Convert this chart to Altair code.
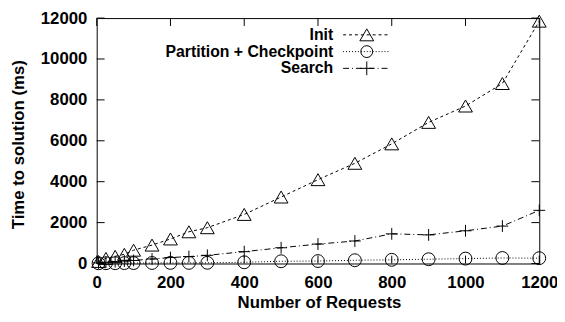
import altair as alt
import pandas as pd

# ---- data ----
requests = [5, 25, 50, 75, 100, 150, 200, 250, 300, 400, 500, 600, 700, 800, 900, 1000, 1100, 1200]
init_ms = [100, 250, 350, 450, 650, 900, 1200, 1550, 1750, 2400, 3250, 4100, 4900, 5850, 6900, 7700, 8800, 11850]
partition_ms = [10, 15, 15, 20, 20, 25, 30, 30, 35, 60, 110, 120, 160, 180, 210, 240, 270, 260]
search_ms = [30, 60, 90, 120, 150, 220, 290, 340, 400, 580, 770, 950, 1100, 1450, 1400, 1600, 1830, 2600]
series_names = ["Init", "Partition + Checkpoint", "Search"]
x_ticks = [0, 200, 400, 600, 800, 1000, 1200]
y_ticks = [0, 2000, 4000, 6000, 8000, 10000, 12000]

rows = []
for name, vals in zip(series_names, [init_ms, partition_ms, search_ms]):
    for xv, yv in zip(requests, vals):
        rows.append({"series": name, "x": xv, "y": yv})
df = pd.DataFrame(rows)

W, H = 449, 249
FONT = "Liberation Sans"
FS = 17
LFS = 16
dash_range = [[3, 3], [1, 2], [6, 3, 1, 3]]
shape_range = ["triangle-up", "circle", "M-1,0H1M0,-1V1"]
size_range = [196, 144, 196]

xscale = alt.Scale(domain=[0, 1200], nice=False, zero=False)
yscale = alt.Scale(domain=[0, 12000], nice=False)

common_axis = dict(
    ticks=False, tickSize=0, domain=False, grid=False, format="d",
    labelFont=FONT, labelFontSize=FS, labelFontWeight="bold", labelColor="black",
    labelFlush=False, labelOverlap=False, labelBound=False,
    titleFont=FONT, titleFontSize=FS, titleFontWeight="bold", titleColor="black",
    titleAlign="center", titleBaseline="middle",
)
xaxis = alt.Axis(values=x_ticks, title="Number of Requests", labelPadding=11,
                 titleX=225.5, titleY=40, **common_axis)
yaxis = alt.Axis(values=y_ticks, title="Time to solution (ms)", labelPadding=10,
                 titleX=-79, titleY=128, titleAngle=270, **common_axis)

X = alt.X("x:Q", scale=xscale, axis=xaxis)
Y = alt.Y("y:Q", scale=yscale, axis=yaxis)

base = alt.Chart(df)
lines = base.mark_line(color="black", strokeWidth=1).encode(
    x=X, y=Y,
    strokeDash=alt.StrokeDash("series:N", scale=alt.Scale(domain=series_names, range=dash_range), legend=None),
)
points = base.mark_point(filled=False, color="black", strokeWidth=1, opacity=1).encode(
    x=X, y=Y,
    shape=alt.Shape("series:N", scale=alt.Scale(domain=series_names, range=shape_range), legend=None),
    size=alt.Size("series:N", scale=alt.Scale(domain=series_names, range=size_range), legend=None),
)

# inward ticks on all four sides (gnuplot style)
TL = 8
xt = pd.DataFrame({"x": x_ticks})
yt = pd.DataFrame({"y": y_ticks})
tick_layers = [
    alt.Chart(xt).mark_rule(color="black", strokeWidth=1).encode(
        x=X, y=alt.value(H), y2=alt.value(H - TL)),
    alt.Chart(xt).mark_rule(color="black", strokeWidth=1).encode(
        x=X, y=alt.value(0), y2=alt.value(TL)),
    alt.Chart(yt).mark_rule(color="black", strokeWidth=1).encode(
        y=Y, x=alt.value(0), x2=alt.value(TL)),
    alt.Chart(yt).mark_rule(color="black", strokeWidth=1).encode(
        y=Y, x=alt.value(W), x2=alt.value(W - TL)),
]

# legend (gnuplot style: right-aligned text, line sample with marker)
legend_layers = []
for i, name in enumerate(series_names):
    ly = 17 + 17 * i
    ldf = pd.DataFrame({"label": [name]})
    legend_layers.append(
        alt.Chart(ldf).mark_text(align="right", baseline="middle", font=FONT, fontSize=LFS,
                                 fontWeight="bold", color="black").encode(
            x=alt.value(240), y=alt.value(ly), text="label:N"))
    legend_layers.append(
        alt.Chart(ldf).mark_rule(color="black", strokeWidth=1, strokeDash=dash_range[i]).encode(
            x=alt.value(250), x2=alt.value(298), y=alt.value(ly)))
    legend_layers.append(
        alt.Chart(ldf).mark_point(shape=shape_range[i], size=size_range[i], filled=False,
                                  color="black", strokeWidth=1, opacity=1).encode(
            x=alt.value(274), y=alt.value(ly)))

chart = alt.layer(lines, points, *tick_layers, *legend_layers).properties(
    width=W, height=H,
    autosize=alt.AutoSizeParams(type="none"),
    padding={"left": 90, "top": 8, "right": 18, "bottom": 49},
    background="white",
).configure_view(stroke="black", strokeWidth=1, fill=None)

chart.save("out.html", embed_options={"renderer": "svg", "actions": False})
